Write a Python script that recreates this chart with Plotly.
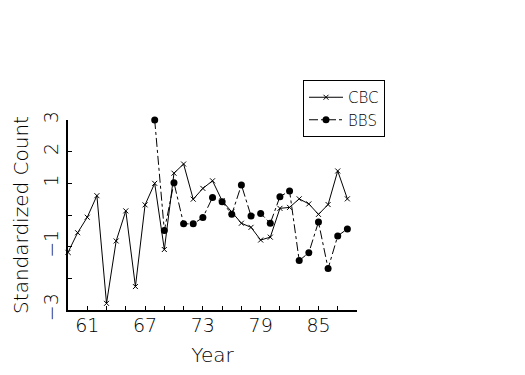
import plotly.graph_objects as go

cbc_years = list(range(1959, 1989))
cbc_values = [-1.18, -0.56, -0.07, 0.61, -2.79, -0.82, 0.13, -2.26, 0.32, 1.00,
              -1.09, 1.32, 1.61, 0.50, 0.84, 1.08, 0.45, 0.10, -0.26, -0.39,
              -0.79, -0.70, 0.21, 0.24, 0.51, 0.35, 0.02, 0.33, 1.39, 0.51]

bbs_years = list(range(1968, 1989))
bbs_values = [3.00, -0.49, 1.02, -0.28, -0.28, -0.08, 0.55, 0.42, 0.02, 0.95,
              -0.03, 0.05, -0.26, 0.58, 0.76, -1.44, -1.19, -0.22, -1.69, -0.66,
              -0.44]

x_tick_vals = list(range(1961, 1990, 2))
x_tick_text = ["61", "", "", "67", "", "", "73", "", "", "79", "", "", "85", "", ""]
y_tick_vals = [-3, -2, -1, 0, 1, 2, 3]
y_tick_text = ["−3", "", "−1", "", "1", "2", "3"]

FONT = "DejaVu Sans ExtraLight, DejaVu Sans"
W, H = 517, 367          # page body has an 8px margin
L, T = 60, 112
PW, PH = 289, 190
R = W - L - PW
B = H - T - PH

fig = go.Figure()
fig.add_trace(go.Scatter(
    x=cbc_years, y=cbc_values, name="CBC", mode="lines+markers",
    line=dict(color="black", width=1),
    marker=dict(symbol="x-thin-open", size=5, line=dict(color="black", width=1), color="black"),
    cliponaxis=False,
))
fig.add_trace(go.Scatter(
    x=bbs_years, y=bbs_values, name="BBS", mode="lines+markers",
    line=dict(color="black", width=1, dash="dashdot"),
    marker=dict(symbol="circle", size=7, color="black"),
    cliponaxis=False,
))

fig.update_layout(
    width=W, height=H,
    margin=dict(l=L, r=R, t=T, b=B, autoexpand=False),
    paper_bgcolor="white", plot_bgcolor="white",
    font=dict(family=FONT, size=19, color="black", weight=200),
    showlegend=True,
    legend=dict(
        x=(295 - L) / PW, y=(H - B - 72) / PH, xanchor="left", yanchor="top",
        bordercolor="black", borderwidth=1, bgcolor="white",
        font=dict(size=15, family=FONT, weight=200),
        tracegroupgap=0, itemwidth=34,
    ),
    xaxis=dict(
        range=[1959, 1989], tickmode="array", tickvals=x_tick_vals, ticktext=x_tick_text,
        ticks="inside", ticklen=4, tickcolor="black", tickwidth=1, ticklabelstandoff=-3,
        showline=True, linecolor="black", linewidth=2, showgrid=False, zeroline=False,
        title=dict(text="Year", standoff=13, font=dict(size=20)),
    ),
    yaxis=dict(
        range=[-3, 3], tickmode="array", tickvals=y_tick_vals, ticktext=y_tick_text,
        ticks="inside", ticklen=4, tickcolor="black", tickwidth=1, tickangle=-90,
        showline=True, linecolor="black", linewidth=2, showgrid=False, zeroline=False,
        title=dict(text="Standardized Count", standoff=6, font=dict(size=20)),
    ),
)

fig.write_html("out.html")
